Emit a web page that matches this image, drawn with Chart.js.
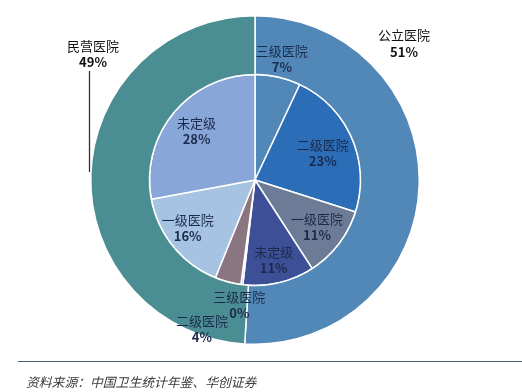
<!DOCTYPE html>
<html>
<head>
<meta charset="utf-8">
<script src="https://cdn.jsdelivr.net/npm/chart.js@4.4.1/dist/chart.umd.min.js"></script>
<style>
  html, body { margin: 0; padding: 0; background: #fff; }
  #wrap { position: relative; width: 522px; height: 392px; }
  #chart { position: absolute; left: 0; top: 0; }
  #rule { position: absolute; left: 18px; top: 361px; width: 504px; height: 0; border-top: 1.5px solid #4a5c6e; }
  #source { position: absolute; left: 26px; top: 372px; font: italic 12.8px "Noto Sans CJK SC", sans-serif; color: #3a3a3a; }
</style>
</head>
<body>
<div id="wrap">
  <canvas id="chart" width="522" height="392"></canvas>
  <div id="rule"></div>
  <div id="source">资料来源：中国卫生统计年鉴、华创证券</div>
</div>
<script>
// outer ring: ownership
const ownerLabels = ["公立医院", "民营医院"];
const ownerValues = [51, 49];

// inner pie: hospital grade within each ownership type
const gradeLabels = ["三级医院", "二级医院", "一级医院", "未定级", "三级医院", "二级医院", "一级医院", "未定级"];
const gradeValues = [7, 23, 11, 11, 0.3, 4, 16, 28];

const ownerColors = ["#5188b8", "#4a8e93"];
const gradeColors = ["#5188b8", "#2b6db6", "#6d7c96", "#3d5097", "#8aa0b8", "#8a7580", "#a6c3e1", "#88a6d8"];

// label radius (as fraction of inner pie radius) and small nudges
const labelR = [1.17, 0.68, 0.74, 0.78, 1.19, 1.44, 0.75, 0.72];
const labelNudge = [[0, 0], [2, 2], [0, 0], [0, 0], [0, 0], [-14, 2], [-6, -2], [0, 0]];

const fontCJK = '"Noto Sans CJK SC", "Noto Sans", sans-serif';

const labelPlugin = {
  id: "labels",
  afterDatasetsDraw(chart) {
    const ctx = chart.ctx;
    const inner = chart.getDatasetMeta(1);
    ctx.save();
    ctx.textAlign = "center";
    ctx.textBaseline = "middle";
    inner.data.forEach((arc, i) => {
      const mid = (arc.startAngle + arc.endAngle) / 2;
      const r = arc.outerRadius * labelR[i];
      const x = arc.x + Math.cos(mid) * r + labelNudge[i][0];
      const y = arc.y + Math.sin(mid) * r + labelNudge[i][1];
      ctx.fillStyle = "#1c2b4c";
      ctx.font = "13px " + fontCJK;
      ctx.fillText(gradeLabels[i], x, y - 8);
      ctx.font = "bold 13px " + fontCJK;
      ctx.fillText(Math.round(gradeValues[i]) + "%", x, y + 8);
    });

    // outer ring labels
    ctx.fillStyle = "#111";
    ctx.font = "13px " + fontCJK;
    ctx.fillText(ownerLabels[0], 404, 35);
    ctx.fillText(ownerLabels[1], 93, 46);
    ctx.font = "bold 13px " + fontCJK;
    ctx.fillText(ownerValues[0] + "%", 404, 52);
    ctx.fillText(ownerValues[1] + "%", 93, 62);

    // leader line for 民营医院
    ctx.strokeStyle = "#333";
    ctx.lineWidth = 1.3;
    ctx.beginPath();
    ctx.moveTo(89.5, 71);
    ctx.lineTo(89.5, 172);
    ctx.stroke();
    ctx.restore();
  }
};

new Chart(document.getElementById("chart"), {
  type: "doughnut",
  data: {
    labels: gradeLabels,
    datasets: [
      {
        data: ownerValues,
        backgroundColor: ownerColors,
        borderColor: "#ffffff",
        borderWidth: 1.5,
        weight: 59
      },
      {
        data: gradeValues,
        backgroundColor: gradeColors,
        borderColor: "#ffffff",
        borderWidth: 1.5,
        weight: 106
      }
    ]
  },
  options: {
    responsive: false,
    animation: false,
    cutout: 0,
    layout: { padding: { left: 90, right: 102, top: 15, bottom: 47 } },
    plugins: {
      legend: { display: false },
      tooltip: { enabled: false }
    }
  },
  plugins: [labelPlugin]
});
</script>
</body>
</html>
